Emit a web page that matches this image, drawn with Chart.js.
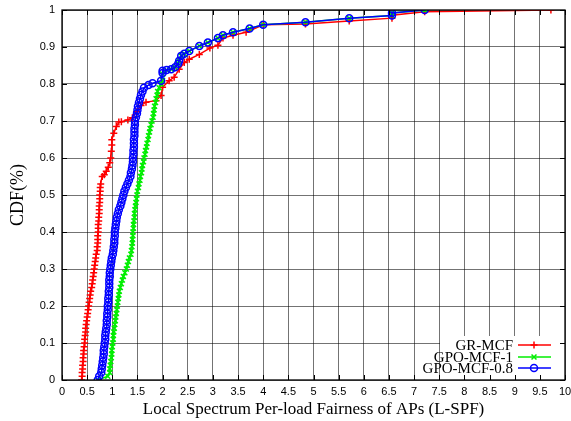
<!DOCTYPE html>
<html><head><meta charset="utf-8">
<script src="https://cdn.jsdelivr.net/npm/chart.js@4/dist/chart.umd.min.js"></script>
<style>html,body{margin:0;padding:0;background:#fff}#wrap{width:571px;height:421px}</style>
</head><body><div id="wrap"><canvas id="c" width="571" height="421"></canvas></div>
<script>
const seriesNames = ["GR-MCF", "GPO-MCF-1", "GPO-MCF-0.8"];
const xTicks = [0,0.5,1,1.5,2,2.5,3,3.5,4,4.5,5,5.5,6,6.5,7,7.5,8,8.5,9,9.5,10];
const yTicks = [0,0.1,0.2,0.3,0.4,0.5,0.6,0.7,0.8,0.9,1];

const grX = [
  0.39,0.40,0.40,0.41,0.41,0.42,0.42,0.43,0.43,0.44,
  0.45,0.45,0.46,0.47,0.47,0.48,0.49,0.50,0.51,0.52,
  0.53,0.54,0.55,0.56,0.57,0.59,0.60,0.61,0.62,0.63,
  0.64,0.65,0.66,0.67,0.68,0.70,0.70,0.71,0.71,0.71,
  0.72,0.72,0.72,0.73,0.73,0.74,0.74,0.74,0.75,0.75,
  0.75,0.76,0.76,0.77,0.80,0.84,0.88,0.92,0.95,0.97,
  0.98,0.99,0.99,1.03,1.08,1.13,1.18,1.31,1.40,1.48,
  1.57,1.67,1.87,1.97,2.00,2.13,2.23,2.33,2.43,2.53,
  2.73,2.94,3.10,3.20,3.40,3.66,4.00,4.84,5.71,6.56,
  6.56,7.21,9.72];
const grY = [
  0.00,0.01,0.02,0.03,0.04,0.05,0.06,0.07,0.08,0.09,
  0.10,0.11,0.12,0.13,0.14,0.15,0.16,0.17,0.18,0.19,
  0.20,0.21,0.22,0.23,0.24,0.25,0.26,0.27,0.28,0.29,
  0.30,0.31,0.32,0.33,0.34,0.35,0.36,0.37,0.38,0.39,
  0.40,0.41,0.42,0.43,0.44,0.45,0.46,0.47,0.48,0.49,
  0.50,0.51,0.52,0.53,0.55,0.555,0.564,0.575,0.587,0.60,
  0.618,0.635,0.649,0.667,0.685,0.697,0.698,0.703,0.709,0.725,
  0.742,0.751,0.755,0.769,0.791,0.809,0.818,0.84,0.858,0.867,
  0.88,0.897,0.905,0.924,0.932,0.94,0.96,0.962,0.97,0.978,
  0.986,0.995,1.0];

const g1X = [
  0.71,0.91,0.95,0.95,0.96,0.97,0.98,0.99,0.99,1.00,
  1.01,1.02,1.02,1.03,1.04,1.05,1.06,1.07,1.08,1.09,
  1.10,1.11,1.12,1.13,1.14,1.16,1.18,1.20,1.22,1.25,
  1.28,1.30,1.32,1.34,1.37,1.38,1.39,1.40,1.40,1.41,
  1.41,1.42,1.42,1.43,1.44,1.44,1.45,1.46,1.47,1.48,
  1.49,1.50,1.52,1.53,1.55,1.56,1.58,1.59,1.60,1.62,
  1.63,1.65,1.66,1.68,1.69,1.71,1.72,1.74,1.75,1.77,
  1.79,1.81,1.82,1.83,1.84,1.86,1.87,1.89,1.90,1.93,
  1.97,2.00,2.00,2.08,2.17,2.25,2.31,2.33,2.37,2.43,
  2.53,2.73,2.90,3.10,3.20,3.40,3.73,4.00,4.84,5.71,
  6.56,6.56,7.21];
const g1Y = [
  0.00,0.01,0.02,0.03,0.04,0.05,0.06,0.07,0.08,0.09,
  0.10,0.11,0.12,0.13,0.14,0.15,0.16,0.17,0.18,0.19,
  0.20,0.21,0.22,0.23,0.24,0.25,0.26,0.27,0.28,0.29,
  0.30,0.31,0.32,0.33,0.34,0.35,0.36,0.37,0.38,0.39,
  0.40,0.41,0.42,0.43,0.44,0.45,0.46,0.47,0.48,0.49,
  0.50,0.51,0.52,0.53,0.54,0.55,0.56,0.57,0.58,0.59,
  0.60,0.61,0.62,0.63,0.64,0.65,0.66,0.67,0.68,0.69,
  0.70,0.71,0.72,0.73,0.74,0.75,0.76,0.77,0.78,0.79,
  0.80,0.81,0.827,0.838,0.84,0.845,0.855,0.863,0.876,0.882,
  0.889,0.903,0.912,0.924,0.932,0.94,0.95,0.96,0.967,0.978,
  0.985,0.992,1.0];

const g8X = [
  0.71,0.74,0.78,0.79,0.80,0.81,0.82,0.83,0.83,0.84,
  0.85,0.86,0.86,0.87,0.88,0.89,0.89,0.90,0.90,0.91,
  0.91,0.92,0.92,0.93,0.93,0.94,0.94,0.94,0.95,0.95,
  0.96,0.97,0.98,0.99,1.01,1.02,1.03,1.04,1.04,1.05,
  1.05,1.06,1.07,1.08,1.09,1.11,1.13,1.16,1.18,1.20,
  1.22,1.24,1.27,1.30,1.33,1.36,1.37,1.39,1.40,1.41,
  1.41,1.42,1.42,1.43,1.43,1.43,1.44,1.44,1.44,1.45,
  1.45,1.47,1.49,1.50,1.51,1.53,1.55,1.57,1.60,1.63,
  1.72,1.80,1.97,2.00,2.00,2.08,2.17,2.25,2.31,2.33,
  2.37,2.43,2.53,2.73,2.90,3.10,3.20,3.40,3.73,4.00,
  4.84,5.71,6.56,6.56,7.21];
const g8Y = [
  0.00,0.01,0.02,0.03,0.04,0.05,0.06,0.07,0.08,0.09,
  0.10,0.11,0.12,0.13,0.14,0.15,0.16,0.17,0.18,0.19,
  0.20,0.21,0.22,0.23,0.24,0.25,0.26,0.27,0.28,0.29,
  0.30,0.31,0.32,0.33,0.34,0.35,0.36,0.37,0.38,0.39,
  0.40,0.41,0.42,0.43,0.44,0.45,0.46,0.47,0.48,0.49,
  0.50,0.51,0.52,0.53,0.54,0.55,0.56,0.57,0.58,0.59,
  0.60,0.61,0.62,0.63,0.64,0.65,0.66,0.67,0.68,0.69,
  0.70,0.71,0.72,0.73,0.74,0.75,0.76,0.77,0.78,0.79,
  0.797,0.802,0.809,0.83,0.836,0.838,0.84,0.845,0.855,0.863,
  0.876,0.882,0.889,0.903,0.912,0.924,0.932,0.94,0.95,0.96,
  0.967,0.978,0.985,0.992,1.0];

const colors = ["#ff0000", "#00ee00", "#0000ff"];
const styles = ["cross", "crossRot", "circle"];

function pts(xs, ys){ return xs.map((x,i)=>({x:x, y:ys[i]})); }

const sansFont = "'Liberation Sans', Arial, sans-serif";
const serifFont = "'Liberation Serif', 'Times New Roman', serif";

const frame = {
  id: 'frame',
  afterDatasetsDraw(chart){
    const ctx = chart.ctx, a = chart.chartArea;
    const xs = chart.scales.x, ys = chart.scales.y;
    ctx.save();
    ctx.fillStyle = '#fff';
    ctx.fillRect(440, 336, a.right - 440, a.bottom - 336);
    ctx.strokeStyle = '#000'; ctx.lineWidth = 1.3;
    ctx.strokeRect(a.left, a.top, a.right - a.left, a.bottom - a.top);
    ctx.lineWidth = 1;
    ctx.beginPath();
    xTicks.forEach(v => {
      const px = Math.round(xs.getPixelForValue(v)) + 0.5;
      ctx.moveTo(px, a.bottom); ctx.lineTo(px, a.bottom - 5);
      ctx.moveTo(px, a.top); ctx.lineTo(px, a.top + 5);
    });
    yTicks.forEach(v => {
      const py = Math.round(ys.getPixelForValue(v)) + 0.5;
      ctx.moveTo(a.left, py); ctx.lineTo(a.left + 5, py);
      ctx.moveTo(a.right, py); ctx.lineTo(a.right - 5, py);
    });
    ctx.stroke();
    const rows = [345, 357, 368];
    ctx.font = "15px " + serifFont;
    ctx.textAlign = 'right'; ctx.textBaseline = 'middle';
    chart.data.datasets.forEach((ds, i) => {
      const y = rows[i];
      ctx.fillStyle = '#000';
      ctx.fillText(ds.label, 513, y + 1);
      ctx.strokeStyle = ds.borderColor; ctx.lineWidth = 1.5;
      ctx.beginPath(); ctx.moveTo(518, y); ctx.lineTo(551, y); ctx.stroke();
      ctx.fillStyle = 'rgba(0,0,0,0)';
      Chart.helpers.drawPoint(ctx, {pointStyle: ds.pointStyle, radius: 3.5, borderWidth: 1.5}, 534, y);
    });
    ctx.restore();
  }
};

new Chart(document.getElementById('c'), {
  type: 'line',
  data: {
    datasets: [
      {label: seriesNames[0], data: pts(grX, grY), order: 2},
      {label: seriesNames[1], data: pts(g1X, g1Y), order: 1},
      {label: seriesNames[2], data: pts(g8X, g8Y), order: 0}
    ].map((d, i) => Object.assign(d, {
      borderColor: colors[i], backgroundColor: 'rgba(0,0,0,0)',
      pointBorderColor: colors[i], pointBackgroundColor: 'rgba(0,0,0,0)',
      pointStyle: styles[i], pointRadius: 3.5, pointBorderWidth: 1.5,
      borderWidth: 1.5, tension: 0, fill: false
    }))
  },
  options: {
    responsive: false, animation: false, devicePixelRatio: 1,
    layout: {padding: {left: 0, right: 6, top: 10, bottom: 0}},
    plugins: {legend: {display: false}, tooltip: {enabled: false}},
    scales: {
      x: {
        type: 'linear', min: 0, max: 10,
        afterBuildTicks: s => { s.ticks = xTicks.map(v => ({value: v})); },
        afterFit: s => { s.height = 41; s.paddingLeft = 0; s.paddingRight = 0; },
        grid: {color: 'rgba(0,0,0,0.55)', borderDash: [1.5, 2.5], drawTicks: false, lineWidth: 1},
        border: {display: false},
        ticks: {font: {family: sansFont, size: 11}, color: '#000', padding: 5, maxRotation: 0,
          callback: v => String(v)},
        title: {display: true, text: 'Local Spectrum Per-load Fairness of APs (L-SPF)',
          font: {family: serifFont, size: 17}, color: '#000', padding: {top: 0, bottom: 1}}
      },
      y: {
        type: 'linear', min: 0, max: 1,
        afterBuildTicks: s => { s.ticks = yTicks.map(v => ({value: v})); },
        afterFit: s => { s.width = 62; s.paddingTop = 0; s.paddingBottom = 0; },
        grid: {color: 'rgba(0,0,0,0.55)', borderDash: [1.5, 2.5], drawTicks: false, lineWidth: 1},
        border: {display: false},
        ticks: {font: {family: sansFont, size: 11}, color: '#000', padding: 7,
          callback: v => String(v)},
        title: {display: true, text: 'CDF(%)', font: {family: serifFont, size: 18}, color: '#000',
          padding: {top: 7, bottom: 0}}
      }
    }
  },
  plugins: [frame]
});
</script></body></html>
